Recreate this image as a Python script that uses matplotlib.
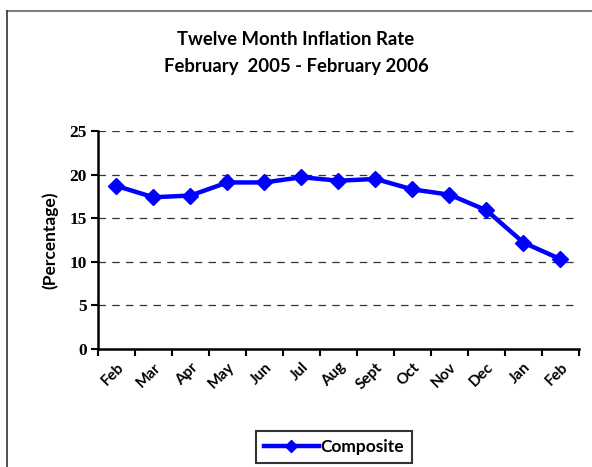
import matplotlib
matplotlib.use("Agg")
from matplotlib import pyplot as plt
from matplotlib.lines import Line2D

months = ["Feb", "Mar", "Apr", "May", "Jun", "Jul", "Aug", "Sept",
          "Oct", "Nov", "Dec", "Jan", "Feb"]
composite = [18.7, 17.4, 17.6, 19.1, 19.1, 19.7, 19.3, 19.5,
             18.3, 17.7, 15.9, 12.2, 10.3]
y_ticks = [0, 5, 10, 15, 20, 25]

fig = plt.figure(figsize=(5.92, 4.67), dpi=100)
ax = fig.add_axes([0.1655, 0.2527, 0.8125, 0.4668])

x = list(range(len(months)))
ax.plot(x, composite, color="#0000ff", linewidth=3.2, marker="D",
        markersize=8, label="Composite", zorder=3)

ax.set_xlim(-0.5, len(months) - 0.5)
ax.set_ylim(0, 25)
ax.set_yticks(y_ticks)
ax.set_yticklabels([str(v) for v in y_ticks], fontfamily="Liberation Serif",
                   fontweight="bold", fontsize=12.5)
for v in y_ticks[1:]:
    ax.axhline(v, color="#333333", linewidth=0.9, linestyle=(0, (6, 5)), zorder=1)

ax.set_xticks(x)
ax.set_xticklabels(months, rotation=45, ha="right", rotation_mode="anchor",
                   fontfamily="Lato", fontweight="bold", fontsize=11)
ax.set_xticks([i - 0.5 for i in range(len(months) + 1)], minor=True)
ax.tick_params(axis="x", which="major", length=0, pad=8)
ax.tick_params(axis="x", which="minor", length=5, width=1.5, direction="out")
ax.tick_params(axis="y", length=5, width=1.5, direction="out", pad=3)

for s in ["top", "right"]:
    ax.spines[s].set_visible(False)
for s in ["left", "bottom"]:
    ax.spines[s].set_linewidth(1.8)

ax.set_ylabel("(Percentage)", fontfamily="Lato", fontweight="bold", fontsize=12.5, labelpad=8)

fig.text(0.5, 0.915, "Twelve Month Inflation Rate", ha="center", va="center",
         fontfamily="Lato", fontweight="bold", fontsize=13.3)
fig.text(0.5, 0.858, "February  2005 - February 2006", ha="center", va="center",
         fontfamily="Lato", fontweight="bold", fontsize=13.3)

leg = ax.legend(loc="center", bbox_to_anchor=(334 / 592, 1 - 447 / 467),
                bbox_transform=fig.transFigure, fancybox=False, frameon=True,
                prop={"family": "Lato", "weight": "bold", "size": 12.5},
                handlelength=3.2, handletextpad=0.1, borderpad=0.45, markerscale=0.8)
leg.get_frame().set_edgecolor("black")
leg.get_frame().set_linewidth(1.5)

# outer frame (top and left edges only)
fig.add_artist(Line2D([7 / 592, 1], [1 - 10.5 / 467] * 2, transform=fig.transFigure,
                      color="#808080", linewidth=1.5))
fig.add_artist(Line2D([7 / 592] * 2, [0, 1 - 10.5 / 467], transform=fig.transFigure,
                      color="#333333", linewidth=1.2))

fig.savefig("out.png", dpi=100)
